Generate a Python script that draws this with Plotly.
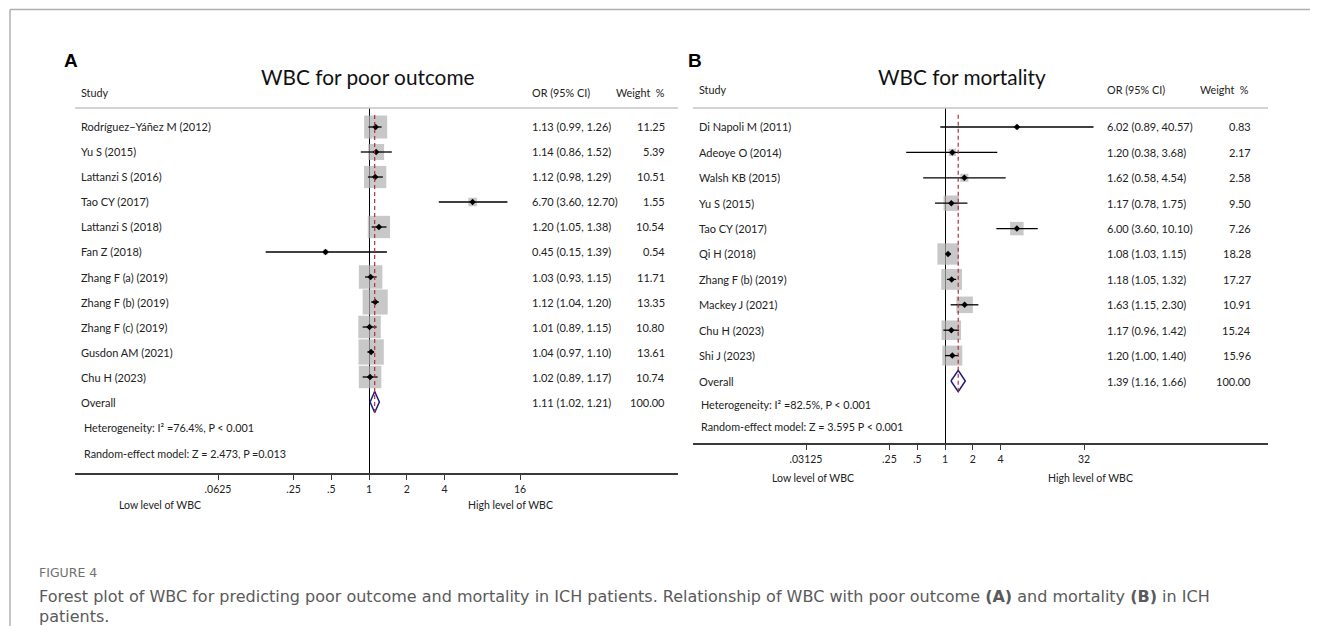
import numpy as np
import plotly.graph_objects as go

# The page body keeps an 8px margin, so the figure is drawn at page (8, 8).
OFF = 8
W, H = 1318 - OFF, 626 - OFF

# ---------------- data ----------------
studies_a = ["Rodríguez−Yáñez M (2012)", "Yu S (2015)", "Lattanzi S (2016)", "Tao CY (2017)",
             "Lattanzi S (2018)", "Fan Z (2018)", "Zhang F (a) (2019)", "Zhang F (b) (2019)",
             "Zhang F (c) (2019)", "Gusdon AM (2021)", "Chu H (2023)"]
or_a = [1.13, 1.14, 1.12, 6.70, 1.20, 0.45, 1.03, 1.12, 1.01, 1.04, 1.02]
lo_a = [0.99, 0.86, 0.98, 3.60, 1.05, 0.15, 0.93, 1.04, 0.89, 0.97, 0.89]
hi_a = [1.26, 1.52, 1.29, 12.70, 1.38, 1.39, 1.15, 1.20, 1.15, 1.10, 1.17]
w_a = [11.25, 5.39, 10.51, 1.55, 10.54, 0.54, 11.71, 13.35, 10.80, 13.61, 10.74]
overall_a = [1.11, 1.02, 1.21]
het_a = "Heterogeneity: I² =76.4%, P < 0.001"
rand_a = "Random-effect model: Z = 2.473, P =0.013"
ticks_a = [0.0625, 0.25, 0.5, 1, 2, 4, 16]
ticklab_a = [".0625", ".25", ".5", "1", "2", "4", "16"]

studies_b = ["Di Napoli M (2011)", "Adeoye O (2014)", "Walsh KB (2015)", "Yu S (2015)",
             "Tao CY (2017)", "Qi H (2018)", "Zhang F (b) (2019)", "Mackey J (2021)",
             "Chu H (2023)", "Shi J (2023)"]
or_b = [6.02, 1.20, 1.62, 1.17, 6.00, 1.08, 1.18, 1.63, 1.17, 1.20]
lo_b = [0.89, 0.38, 0.58, 0.78, 3.60, 1.03, 1.05, 1.15, 0.96, 1.00]
hi_b = [40.57, 3.68, 4.54, 1.75, 10.10, 1.15, 1.32, 2.30, 1.42, 1.40]
w_b = [0.83, 2.17, 2.58, 9.50, 7.26, 18.28, 17.27, 10.91, 15.24, 15.96]
overall_b = [1.39, 1.16, 1.66]
het_b = "Heterogeneity: I² =82.5%, P < 0.001"
rand_b = "Random-effect model: Z = 3.595 P < 0.001"
ticks_b = [0.03125, 0.25, 0.5, 1, 2, 4, 32]
ticklab_b = [".03125", ".25", ".5", "1", "2", "4", "32"]

# ---------------- styling ----------------
FONT = "Lato"
TXT = "#222222"
BOX = "rgb(176,176,176)"
NAVY = "#1c1c7a"
RED = "#b0303a"
FS = 11


def px(x):
    return (x - OFF) / W


def py(y):
    return 1 - (y - OFF) / H


fig = go.Figure()
ann = []
shapes = []


def text(x, y, s, xanchor="left", yref="paper", size=FS, family=FONT, color=TXT, **kw):
    ann.append(dict(x=x, y=y, xref="paper", yref=yref, text=s, xanchor=xanchor, yanchor="middle",
                    showarrow=False, font=dict(family=family, size=size, color=color, **kw)))


def panel(xa, ya, studies, ors, los, his, ws, overall, het, rand, ticks, ticklab,
          dom_x, dom_y, xr, yr, box_k, cfg):
    n = len(studies)
    rows = list(range(n))
    lx = np.log2(ors)
    llo = np.log2(los)
    lhi = np.log2(his)
    cx, cy = [], []
    for i in rows:
        cx += [llo[i], lhi[i], None]
        cy += [i, i, None]
    fig.add_trace(go.Scatter(x=lx, y=rows, mode="markers", xaxis=xa, yaxis=ya,
                             marker=dict(symbol="square", size=[box_k * np.sqrt(w) for w in ws],
                                         color=BOX, line=dict(width=0)),
                             hoverinfo="skip", showlegend=False))
    fig.add_trace(go.Scatter(x=cx, y=cy, mode="lines", xaxis=xa, yaxis=ya,
                             line=dict(color="black", width=1.3),
                             hoverinfo="skip", showlegend=False))
    fig.add_trace(go.Scatter(x=lx, y=rows, mode="markers", xaxis=xa, yaxis=ya,
                             marker=dict(symbol="diamond", size=5, color="black"),
                             hoverinfo="skip", showlegend=False))
    o, olo, ohi = np.log2(overall)
    r = n
    fig.add_trace(go.Scatter(x=[olo, o, ohi, o, olo], y=[r, r - 0.42, r, r + 0.42, r],
                             mode="lines", fill="toself", fillcolor="white",
                             xaxis=xa, yaxis=ya, line=dict(color=NAVY, width=1.5),
                             hoverinfo="skip", showlegend=False))
    fig.add_trace(go.Scatter(x=[o, o], y=[-0.48, n + 0.45], mode="lines", xaxis=xa, yaxis=ya,
                             line=dict(color=RED, width=1.2, dash="4px,3px"),
                             hoverinfo="skip", showlegend=False))
    axname = "xaxis" if xa == "x" else "xaxis" + xa[1:]
    yname = "yaxis" if ya == "y" else "yaxis" + ya[1:]
    fig.update_layout(**{
        axname: dict(domain=dom_x, range=xr, anchor=ya, showgrid=False, zeroline=True,
                     zerolinecolor="black", zerolinewidth=1.2, showline=True,
                     linecolor="#3a3a3a", linewidth=1.8, ticks="outside", ticklen=5,
                     tickwidth=1.2, tickcolor="#3a3a3a", ticklabelstandoff=0,
                     tickvals=list(np.log2(ticks)), ticktext=ticklab,
                     tickfont=dict(family=FONT, size=10.5, color=TXT), fixedrange=True),
        yname: dict(domain=dom_y, range=yr, anchor=xa, visible=False, fixedrange=True),
    })
    shapes.append(dict(type="line", xref=xa + " domain", yref="paper", x0=0, x1=1,
                       y0=dom_y[1], y1=dom_y[1], line=dict(color="#c4c4c4", width=1.5)))
    for i in rows:
        text(px(cfg["study_x"]), i, studies[i], yref=ya)
        text(px(cfg["or_x"]), i, f"{ors[i]:.2f} ({los[i]:.2f}, {his[i]:.2f})", yref=ya)
        text(px(cfg["w_x"]), i, f"{ws[i]:.2f}", xanchor="right", yref=ya)
    text(px(cfg["study_x"]), n, "Overall", yref=ya)
    text(px(cfg["or_x"]), n, f"{overall[0]:.2f} ({overall[1]:.2f}, {overall[2]:.2f})", yref=ya)
    text(px(cfg["w_x"]), n, f"{100:.2f}", xanchor="right", yref=ya)
    text(px(cfg["het_x"]), py(cfg["het_y"]), het, size=10.8)
    text(px(cfg["het_x"]), py(cfg["rand_y"]), rand, size=10.8)
    text(px(cfg["study_x"]), py(cfg["head_y"]), "Study", size=10.8)
    text(px(cfg["or_x"]), py(cfg["head_y"]), "OR (95% CI)", size=10.8)
    text(px(cfg["wh_x"]), py(cfg["head_y"]), "Weight  %", xanchor="right", size=10.8)
    text(px(cfg["title_x"]), py(cfg["title_y"]), cfg["title"], xanchor="center", size=20.8,
         color="#111111")
    text(px(cfg["letter_x"]), py(cfg["letter_y"]), "<b>" + cfg["letter"] + "</b>",
         size=19, family="Liberation Sans", color="black")
    text(px(cfg["low_x"]), py(cfg["lh_y"]), "Low level of WBC", xanchor="center", size=10.5)
    text(px(cfg["high_x"]), py(cfg["lh_y"]), "High level of WBC", xanchor="center", size=10.5)


# Panel A geometry (page pixels): plot x 75..678, OR=1 at 369, 37.75 px/octave
octA = 37.75
xrA = [-(369 - 75) / octA, (678 - 369) / octA]
rowA0, stepA = 127, 25.0
yrA = [(473 - rowA0) / stepA, (108 - rowA0) / stepA]
panel("x", "y", studies_a, or_a, lo_a, hi_a, w_a, overall_a, het_a, rand_a, ticks_a, ticklab_a,
      [px(75), px(678)], [py(473), py(108)], xrA, yrA, 6.86,
      dict(study_x=79, or_x=530, w_x=667, wh_x=667, het_x=82, het_y=427, rand_y=453,
           head_y=93, title_x=368, title_y=77, title="WBC for poor outcome",
           letter="A", letter_x=62, letter_y=60, low_x=160, high_x=510, lh_y=505))

# Panel B geometry: plot x 693..1268, OR=1 at 945, 27.8 px/octave
octB = 27.8
xrB = [-(945 - 693) / octB, (1268 - 945) / octB]
rowB0, stepB = 127, 25.4
yrB = [(443 - rowB0) / stepB, (108 - rowB0) / stepB]
panel("x2", "y2", studies_b, or_b, lo_b, hi_b, w_b, overall_b, het_b, rand_b, ticks_b, ticklab_b,
      [px(693), px(1268)], [py(443), py(108)], xrB, yrB, 5.0,
      dict(study_x=697, or_x=1105, w_x=1253, wh_x=1251, het_x=699, het_y=404, rand_y=426,
           head_y=90, title_x=962, title_y=76, title="WBC for mortality",
           letter="B", letter_x=686, letter_y=60, low_x=813, high_x=1090, lh_y=478))

# figure frame (top and left border)
shapes.append(dict(type="line", xref="paper", yref="paper", x0=px(10), x1=1, y0=py(9.5), y1=py(9.5),
                   line=dict(color="#b0b0b0", width=1.5)))
shapes.append(dict(type="line", xref="paper", yref="paper", x0=px(10), x1=px(10), y0=py(9.5), y1=0,
                   line=dict(color="#b0b0b0", width=1.5)))

# caption
CAP = "DejaVu Sans"
text(px(37), py(572), "FIGURE 4", size=12.5, family=CAP, color="#707070")
text(px(37), py(596),
     "Forest plot of WBC for predicting poor outcome and mortality in ICH patients. "
     "Relationship of WBC with poor outcome <b>(A)</b> and mortality <b>(B)</b> in ICH",
     size=16, family=CAP, color="#5a5a5a")
text(px(37), py(616), "patients.", size=16, family=CAP, color="#5a5a5a")

fig.update_layout(width=W, height=H, autosize=False, margin=dict(l=0, r=0, t=0, b=0),
                  paper_bgcolor="white", plot_bgcolor="white", showlegend=False,
                  annotations=ann, shapes=shapes)

fig.write_html("out.html", config={"displayModeBar": False})
